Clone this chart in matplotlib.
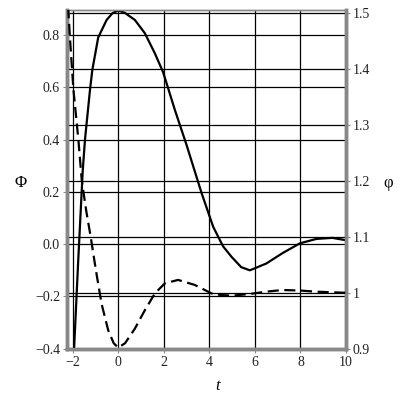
import numpy as np
import matplotlib
matplotlib.use("Agg")
import matplotlib.pyplot as plt

plt.rcParams['font.family'] = ['Liberation Serif', 'DejaVu Serif']
plt.rcParams['font.size'] = 10

# solid curve, left axis (Phi)
t_solid = [-1.95, -1.75, -1.56, -1.46, -1.24, -1.14, -0.88, -0.51, -0.25, 0.0,
           0.29, 0.73, 1.17, 1.61, 1.97, 2.19, 2.49, 3.0, 3.66, 4.17, 4.6, 4.97,
           5.4, 5.78, 6.5, 7.2, 7.97, 8.7, 9.4, 10.0]
phi_big = [-0.42, -0.05, 0.28, 0.40, 0.59, 0.665, 0.79, 0.857, 0.883, 0.893,
           0.884, 0.857, 0.806, 0.729, 0.657, 0.596, 0.512, 0.379, 0.195, 0.066, -0.008, -0.048,
           -0.088, -0.10, -0.074, -0.035, 0.003, 0.02, 0.024, 0.015]

# dashed curve, right axis (phi)
t_dash = [-2.2, -2.12, -1.97, -1.75, -1.6, -1.4, -1.21, -0.98, -0.73, -0.44,
          -0.2, 0.0, 0.3, 0.73, 1.17, 1.61, 2.05, 2.63, 3.36, 4.09, 4.5,
          5.03, 5.78, 6.5, 7.2, 8.0, 8.7, 10.0]
phi_small = [1.51, 1.455, 1.364, 1.273, 1.2, 1.145, 1.1, 1.04, 0.98, 0.933,
             0.91, 0.902, 0.91, 0.936, 0.969, 0.999, 1.017, 1.023, 1.014, 0.999, 0.996,
             0.995, 0.998, 1.002, 1.005, 1.004, 1.002, 1.0]

x_ticks = [-2, 0, 2, 4, 6, 8, 10]
left_ticks = [-0.4, -0.2, 0.0, 0.2, 0.4, 0.6, 0.8]
right_ticks = [0.9, 1.0, 1.1, 1.2, 1.3, 1.4, 1.5]
right_labels = ['0.9', '1', '1.1', '1.2', '1.3', '1.4', '1.5']

fig = plt.figure(figsize=(4, 4), dpi=100)
ax1 = fig.add_axes([0.1675, 0.128, 0.6975, 0.847])
ax2 = ax1.twinx()

ax1.plot(t_solid, phi_big, color='black', lw=1.6, solid_capstyle='butt', zorder=5)
ax2.plot(t_dash, phi_small, color='black', lw=1.6, dashes=(5, 2.5), zorder=5)

ax1.set_xlim(-2.25, 10)
ax1.set_ylim(-0.4, 0.895)
ax2.set_ylim(0.9, 1.505)

ax1.set_xticks(x_ticks)
ax1.set_xticklabels([str(v).replace('-', '\u2212') for v in x_ticks])
ax1.set_yticks(left_ticks)
ax2.set_yticks(right_ticks)
ax2.set_yticklabels(right_labels)

ax1.grid(True, color='black', lw=0.9)
ax2.grid(True, axis='y', color='black', lw=0.9)
ax1.set_axisbelow(True)

for ax in (ax1, ax2):
    for side in ('left', 'right', 'bottom'):
        ax.spines[side].set_color('#888888')
        ax.spines[side].set_linewidth(2.5)
    ax.spines['top'].set_color('#888888')
    ax.spines['top'].set_linewidth(1.0)
    ax.tick_params(direction='out', length=3, color='#888888', labelcolor='#222222', pad=2)

ax1.set_ylabel('\u03a6', rotation=0, fontsize=12, va='center', ha='center')
ax1.yaxis.set_label_coords(-0.168, 0.49)
ax2.set_ylabel('\u03c6', rotation=0, fontsize=12, va='center', ha='center')
ax2.yaxis.set_label_coords(1.15, 0.49)
ax1.set_xlabel('t', fontstyle='italic', fontsize=12)
ax1.xaxis.set_label_coords(0.541, -0.085)

fig.savefig('out.png', dpi=100)
